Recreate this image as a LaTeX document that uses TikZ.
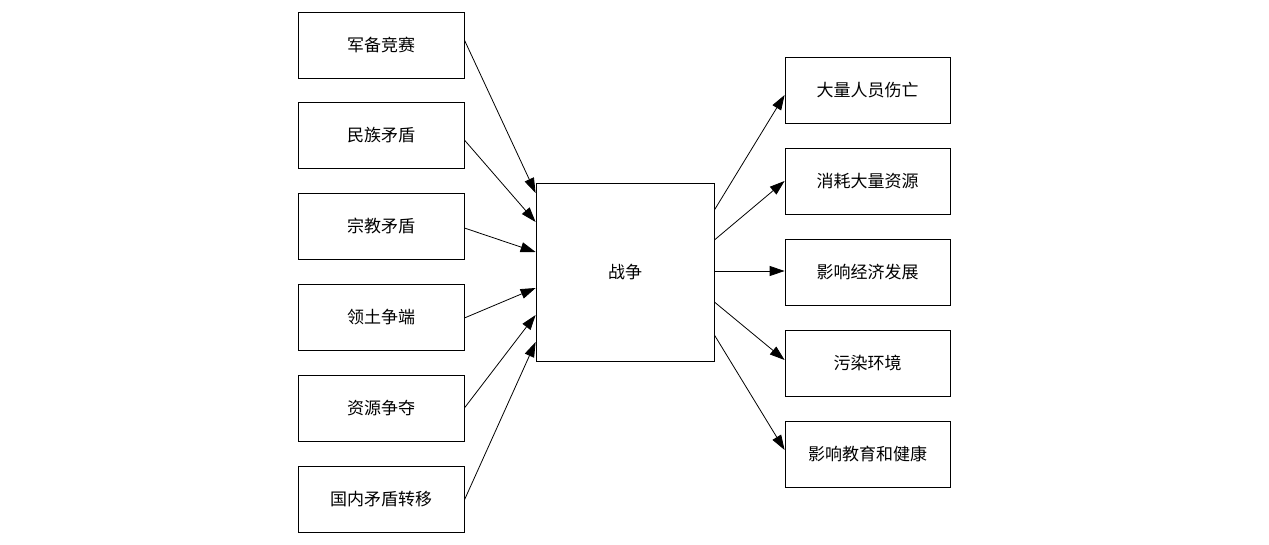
\documentclass[tikz,border=0pt]{standalone}
\usepackage{fontspec}
\newfontfamily\cjk{Noto Sans CJK SC}
\usetikzlibrary{arrows.meta,calc}
\begin{document}
\begin{tikzpicture}[x=1pt,y=-1pt,
 box/.style={draw,line width=0.8pt,minimum width=166pt,minimum height=66pt,font=\cjk\fontsize{17}{20}\selectfont,inner sep=0pt},
 arr/.style={-{Triangle[length=15pt,width=10pt]},line width=0.8pt}]
\useasboundingbox (0,0) rectangle (1269,544);
\node[box] (l1) at (381,45) {军备竞赛};
\node[box] (l2) at (381,135) {民族矛盾};
\node[box] (l3) at (381,226) {宗教矛盾};
\node[box] (l4) at (381,317) {领土争端};
\node[box] (l5) at (381,408) {资源争夺};
\node[box] (l6) at (381,499) {国内矛盾转移};
\node[box,minimum width=178pt,minimum height=178pt] (c) at (625,272) {战争};
\node[box,minimum width=165pt] (r1) at (867.5,90) {大量人员伤亡};
\node[box,minimum width=165pt] (r2) at (867.5,181) {消耗大量资源};
\node[box,minimum width=165pt] (r3) at (867.5,272) {影响经济发展};
\node[box,minimum width=165pt] (r4) at (867.5,363) {污染环境};
\node[box,minimum width=165pt] (r5) at (867.5,454) {影响教育和健康};
\draw[arr] ($(l1.east)+(0,-5)$) -- ($(c.west)+(0,-79)$);
\draw[arr] ($(l2.east)+(0,5)$) -- ($(c.west)+(0,-50)$);
\draw[arr] ($(l3.east)+(0,2)$) -- ($(c.west)+(0,-20)$);
\draw[arr] ($(l4.east)+(0,1)$) -- ($(c.west)+(0,16)$);
\draw[arr] (l5.east) -- ($(c.west)+(0,43)$);
\draw[arr] ($(l6.east)+(0,1)$) -- ($(c.west)+(0,70)$);
\draw[arr] ($(c.east)+(0,-62)$) -- ($(r1.west)+(0,5)$);
\draw[arr] ($(c.east)+(0,-32)$) -- (r2.west);
\draw[arr] ($(c.east)+(0,-1)$) -- ($(r3.west)+(0,-1)$);
\draw[arr] ($(c.east)+(0,30)$) -- ($(r4.west)+(0,-3)$);
\draw[arr] ($(c.east)+(0,63)$) -- ($(r5.west)+(0,-4)$);
\end{tikzpicture}
\end{document}
